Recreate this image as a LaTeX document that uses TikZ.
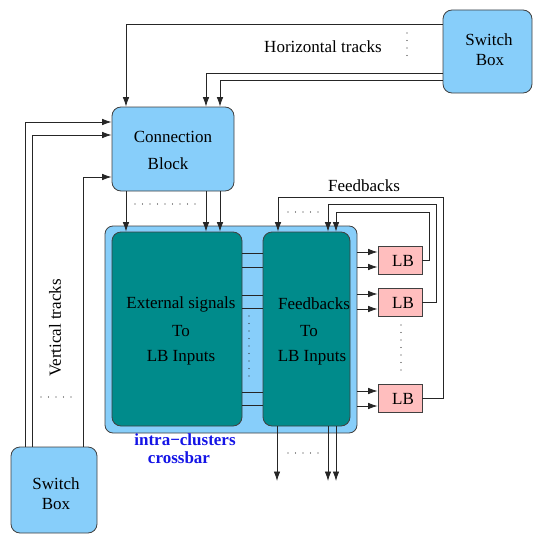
\documentclass[tikz,border=0pt]{standalone}
\usepackage{fontspec}
\setmainfont{Liberation Serif}
\usetikzlibrary{arrows.meta}
\definecolor{lblue}{RGB}{135,206,250}
\definecolor{teal2}{RGB}{0,139,139}
\definecolor{lbpink}{RGB}{255,190,190}
\definecolor{xblue}{RGB}{20,20,230}
\begin{document}
\begin{tikzpicture}[x=1pt,y=-1pt,
  every node/.style={font=\fontsize{17}{27}\selectfont, inner sep=0pt},
  box/.style={draw=black!75, line width=0.8pt, fill=lblue, rounded corners=9pt, align=center},
  tealbox/.style={draw=black!75, line width=0.8pt, fill=teal2, rounded corners=9pt},
  lbbox/.style={draw=black!75, line width=0.8pt, fill=lbpink, minimum width=44pt, minimum height=28pt},
  wire/.style={draw=black!85, line width=0.8pt},
  arr/.style={wire, -{Latex[length=9.5pt,width=6.5pt]}},
  dots/.style={line width=1.1pt, line cap=round, dash pattern=on 0pt off 7.5pt, draw=black!85}]
\useasboundingbox (0,0) rectangle (533,535);
% boxes
\node[box, minimum width=89pt, minimum height=83pt] (sbT) at (487.5,51.5) {};
\node at (489,40) {Switch};
\node at (490,60) {Box};
\node[box, minimum width=86pt, minimum height=86pt] (sbB) at (54,490) {};
\node at (56,484) {Switch};
\node at (56,504) {Box};
\node[box, minimum width=122pt, minimum height=84pt] (cb) at (173,149) {};
\node at (173,137) {Connection};
\node at (168,164) {Block};
\node[box, rounded corners=8pt, minimum width=252pt, minimum height=207pt] (xbar) at (231,329.5) {};
\node[tealbox, minimum width=130pt, minimum height=194pt] (tL) at (177,329) {};
\node[tealbox, minimum width=87pt, minimum height=194pt] (tR) at (306.5,329) {};
\node at (181,304) {External signals};
\node at (181,331) {To};
\node at (181,358) {LB Inputs};
\node at (314,304) {Feedbacks};
\node at (309,331) {To};
\node at (312,358) {LB Inputs};
\node[lbbox] (lb1) at (400,260) {};
\node[lbbox] (lb2) at (400,302) {};
\node[lbbox] (lb3) at (400,398) {};
\node at (403,261) {LB};
\node at (403,303) {LB};
\node at (403,399) {LB};
% labels
\node (ht) at (323,47) {Horizontal tracks};
\node[rotate=90] (vt) at (55,328) {Vertical tracks};
\node (fb) at (364,186) {Feedbacks};
\node[text=xblue, font=\fontsize{17}{27}\selectfont\bfseries] (ic1) at (185,440) {intra−clusters};
\node[text=xblue, font=\fontsize{17}{27}\selectfont\bfseries] (ic2) at (179,457.5) {crossbar};
% horizontal tracks
\draw[arr] (sbT.west |- 0,24) -| (cb.north -| 126,0);
\draw[arr] (sbT.west |- 0,73) -| (cb.north -| 206,0);
\draw[arr] (sbT.west |- 0,80) -| (cb.north -| 220,0);
% vertical tracks
\draw[arr] (sbB.north -| 25,0) |- (cb.west |- 0,122);
\draw[arr] (sbB.north -| 32,0) |- (cb.west |- 0,135);
\draw[arr] (sbB.north -| 83,0) |- (cb.west |- 0,177);
% CB to crossbar
\draw[arr] (cb.south -| 126,0) -- (tL.north -| 126,0);
\draw[arr] (cb.south -| 206,0) -- (tL.north -| 206,0);
\draw[arr] (cb.south -| 220,0) -- (tL.north -| 220,0);
% links between teal blocks
\foreach \yy in {253,267,295,308,392,405}
  \draw[wire] (tL.east |- 0,\yy) -- (tR.west |- 0,\yy);
% crossbar to LBs
\draw[arr] (xbar.east |- 0,252) -- (lb1.west |- 0,252);
\draw[arr] (xbar.east |- 0,267) -- (lb1.west |- 0,267);
\draw[arr] (xbar.east |- 0,294) -- (lb2.west |- 0,294);
\draw[arr] (xbar.east |- 0,309) -- (lb2.west |- 0,309);
\draw[arr] (xbar.east |- 0,391) -- (lb3.west |- 0,391);
\draw[arr] (xbar.east |- 0,406) -- (lb3.west |- 0,406);
% feedbacks
\draw[arr] (lb3.east) -- (443,398) -- (443,197) -| (tR.north -| 278,0);
\draw[arr] (lb2.east) -- (436,302) -- (436,204) -| (tR.north -| 328,0);
\draw[arr] (lb1.east) -- (429,260) -- (429,212) -| (tR.north -| 336,0);
% outputs
\coordinate (o1) at (277,481);
\coordinate (o2) at (328,481);
\coordinate (o3) at (336,481);
\draw[arr] (tR.south -| o1) -- (o1);
\draw[arr] (tR.south -| o2) -- (o2);
\draw[arr] (tR.south -| o3) -- (o3);
% dots
\draw[dots] (407,33) -- (407,63);
\draw[dots] (135,204) -- (196,204);
\draw[dots] (288,212) -- (319,212);
\draw[dots] (288,453) -- (319,453);
\draw[dots] (249,316) -- (249,381);
\draw[dots] (401,325) -- (401,375);
\draw[dots] (41,397) -- (73,397);
\end{tikzpicture}
\end{document}
